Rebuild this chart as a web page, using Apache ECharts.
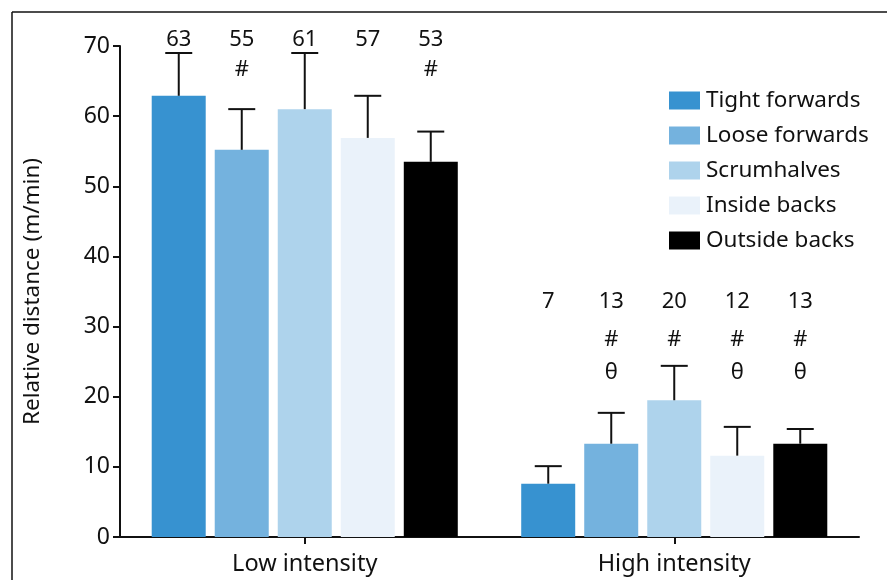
<!DOCTYPE html>
<html>
<head>
<meta charset="utf-8">
<script src="https://cdn.jsdelivr.net/npm/echarts@6/dist/echarts.min.js"></script>
<style>
html,body{margin:0;padding:0;background:#fff;}
#chart{width:887px;height:580px;}
</style>
</head>
<body>
<div id="chart"></div>
<script>
const categories = ['Low intensity', 'High intensity'];
const positions = ['Tight forwards', 'Loose forwards', 'Scrumhalves', 'Inside backs', 'Outside backs'];
const colors = ['#3792d0', '#74b2de', '#aed3ec', '#eaf2fa', '#000000'];

// per position: [low, high]
const meanLow  = [62.9, 55.2, 61.0, 56.9, 53.5];
const sdLow    = [6.1, 5.8, 8.0, 6.0, 4.3];
const meanHigh = [7.6, 13.3, 19.5, 11.6, 13.3];
const sdHigh   = [2.5, 4.4, 4.9, 4.1, 2.1];

const valueLabelsLow  = ['63', '55', '61', '57', '53'];
const valueLabelsHigh = ['7', '13', '20', '12', '13'];
const hashLow   = ['', '#', '', '', '#'];
const hashHigh  = ['', '#', '#', '#', '#'];
const thetaLow  = ['', '', '', '', ''];
const thetaHigh = ['', 'θ', '', 'θ', 'θ'];

const FONT = '"Noto Sans"';
const BAR_W = 54;
const BAR_GAP = 9;
// annotation rows (value units) per category: [number, #, θ]
const annotationRows = [[70.9, 66.6, 62], [33.6, 28.1, 23.4]];

const chart = echarts.init(document.getElementById('chart'), null, {renderer: 'canvas'});

const barSeries = positions.map((p, i) => ({
  name: p,
  type: 'bar',
  barWidth: BAR_W,
  barGap: (BAR_GAP / BAR_W * 100).toFixed(1) + '%',
  itemStyle: {color: colors[i]},
  data: [meanLow[i], meanHigh[i]],
  z: 2
}));

const errSeries = positions.map((p, i) => ({
  name: 'err_' + i,
  type: 'custom',
  z: 5,
  silent: true,
  data: [[0, meanLow[i], sdLow[i]], [1, meanHigh[i], sdHigh[i]]],
  renderItem: function (params, api) {
    const c = api.value(0), m = api.value(1), s = api.value(2);
    const base = api.coord([c, m]);
    const top = api.coord([c, m + s]);
    const x = base[0] + (i - 2) * (BAR_W + BAR_GAP);
    const rows = annotationRows[c];
    const num = c === 0 ? valueLabelsLow[i] : valueLabelsHigh[i];
    const hash = c === 0 ? hashLow[i] : hashHigh[i];
    const theta = c === 0 ? thetaLow[i] : thetaHigh[i];
    const lineStyle = {stroke: '#111', lineWidth: 2};
    const txt = (t, v) => ({
      type: 'text',
      style: {
        x: x, y: api.coord([c, v])[1], text: t,
        textAlign: 'center', textVerticalAlign: 'middle',
        font: '22px ' + FONT, fill: '#111'
      }
    });
    return {
      type: 'group',
      children: [
        {type: 'line', shape: {x1: x, y1: base[1], x2: x, y2: top[1]}, style: lineStyle},
        {type: 'line', shape: {x1: x - 13.5, y1: top[1], x2: x + 13.5, y2: top[1]}, style: lineStyle},
        txt(num, rows[0]),
        txt(hash, rows[1]),
        txt(theta, rows[2])
      ]
    };
  }
}));

const option = {
  animation: false,
  backgroundColor: '#fff',
  textStyle: {fontFamily: FONT},
  grid: {left: 120, right: 28, top: 46, bottom: 43, containLabel: false},
  legend: {
    data: positions,
    orient: 'vertical',
    left: 669, top: 89,
    padding: 0,
    itemWidth: 31, itemHeight: 18, itemGap: 12,
    icon: 'rect',
    textStyle: {fontSize: 22.5, color: '#111', fontFamily: FONT, padding: [0, 0, 0, 1]},
    selectedMode: false
  },
  xAxis: {
    type: 'category',
    data: categories,
    axisLine: {lineStyle: {color: '#111', width: 2}},
    axisTick: {show: true, alignWithLabel: true, length: 7, lineStyle: {color: '#111', width: 2}},
    axisLabel: {fontSize: 23.5, color: '#111', margin: 15, fontFamily: FONT}
  },
  yAxis: {
    type: 'value',
    min: 0, max: 70, interval: 10,
    name: 'Relative distance (m/min)',
    nameLocation: 'middle',
    nameGap: 76,
    nameTextStyle: {fontSize: 22.5, color: '#111', fontFamily: FONT},
    axisLine: {show: true, lineStyle: {color: '#111', width: 2}},
    axisTick: {show: true, length: 7, lineStyle: {color: '#111', width: 2}},
    axisLabel: {fontSize: 23, color: '#111', margin: 10, fontFamily: FONT},
    splitLine: {show: false}
  },
  graphic: [
    {type: 'line', shape: {x1: 12, y1: 12, x2: 887, y2: 12}, style: {stroke: '#111', lineWidth: 1.5}},
    {type: 'line', shape: {x1: 12, y1: 12, x2: 12, y2: 580}, style: {stroke: '#111', lineWidth: 1.5}}
  ],
  series: barSeries.concat(errSeries)
};

chart.setOption(option);
</script>
</body>
</html>
